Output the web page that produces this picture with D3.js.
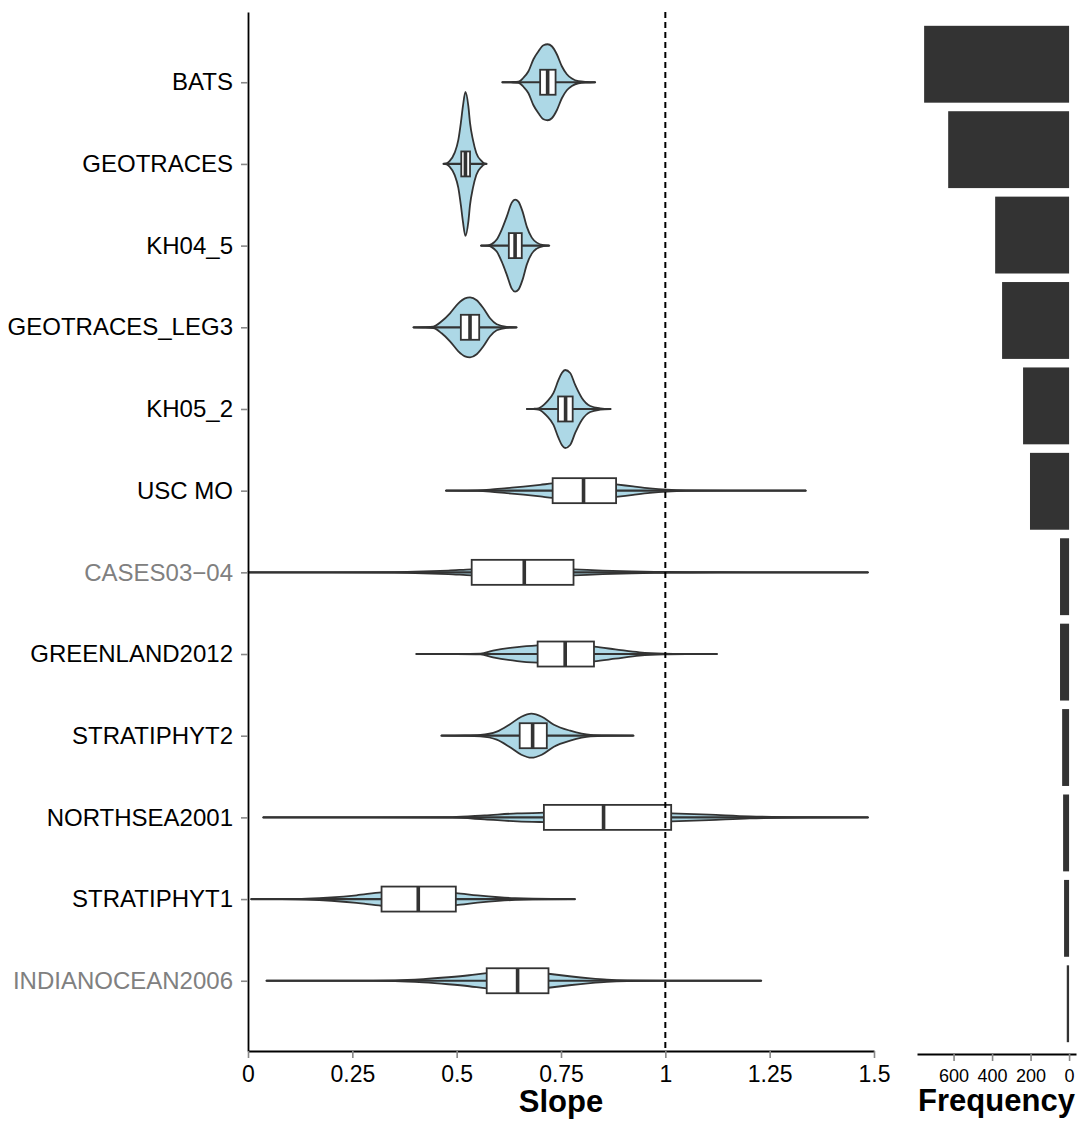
<!DOCTYPE html>
<html><head><meta charset="utf-8">
<script src="https://cdn.jsdelivr.net/npm/d3@7"></script>
<style>body{margin:0;background:#fff}</style>
</head><body><svg id="chart" width="1081" height="1122"></svg>
<script>
// ---------- DATA ----------
const categories = ["BATS","GEOTRACES","KH04_5","GEOTRACES_LEG3","KH05_2","USC MO","CASES03−04","GREENLAND2012","STRATIPHYT2","NORTHSEA2001","STRATIPHYT1","INDIANOCEAN2006"];
const greyLabels = ["CASES03−04","INDIANOCEAN2006"];
const frequency = [753, 628, 384, 348, 239, 203, 47, 47, 36, 31, 26, 12];

const slopeMin = [0.609, 0.468, 0.558, 0.396, 0.668, 0.474, 0.000, 0.403, 0.463, 0.036, 0.007, 0.044];
const slopeQ1  = [0.700, 0.511, 0.625, 0.510, 0.743, 0.730, 0.536, 0.694, 0.651, 0.709, 0.320, 0.572];
const slopeMed = [0.718, 0.521, 0.640, 0.532, 0.761, 0.804, 0.662, 0.760, 0.682, 0.852, 0.408, 0.646];
const slopeQ3  = [0.737, 0.532, 0.656, 0.554, 0.778, 0.882, 0.780, 0.829, 0.716, 1.014, 0.498, 0.720];
const slopeMax = [0.832, 0.572, 0.722, 0.644, 0.869, 1.337, 1.486, 1.124, 0.924, 1.486, 0.784, 1.230];

// violin density profiles: [slope, density (arbitrary units)]
const densBATS = [[0.609,0],[0.630,0.2],[0.648,0.5],[0.660,4.5],[0.672,11],[0.684,23],[0.696,31],[0.708,37],[0.718,38],[0.728,36],[0.740,28],[0.752,16],[0.764,8],[0.776,3.7],[0.792,1],[0.812,0.3],[0.832,0]];
const densGEOTRACES = [[0.468,0],[0.476,0.5],[0.483,2.7],[0.495,11],[0.504,24],[0.510,41],[0.515,57.7],[0.521,72],[0.528,57.7],[0.532,41],[0.539,24],[0.547,11],[0.560,2.7],[0.566,0.5],[0.572,0]];
const densKH04 = [[0.558,0],[0.575,0.3],[0.584,1.5],[0.596,6],[0.608,16],[0.620,29],[0.632,43],[0.640,46],[0.648,44],[0.658,34],[0.668,19],[0.680,8],[0.692,3],[0.708,0.5],[0.722,0]];
const densLEG3 = [[0.396,0],[0.425,0.2],[0.444,0.7],[0.464,6],[0.484,14],[0.504,24],[0.520,29],[0.532,30],[0.548,27],[0.564,19],[0.580,9],[0.596,3],[0.620,0.5],[0.644,0]];
const densKH05 = [[0.668,0],[0.685,0.2],[0.696,0.7],[0.716,7],[0.732,16],[0.744,29],[0.752,36],[0.760,39],[0.772,36],[0.784,24],[0.800,11],[0.820,3],[0.844,0.7],[0.869,0]];
const densUSCMO = [[0.474,0],[0.52,0.1],[0.55,0.3],[0.58,1],[0.62,2.5],[0.66,4],[0.70,5.8],[0.73,7.3],[0.77,8.5],[0.80,8.8],[0.84,8.2],[0.882,6.3],[0.923,4.2],[0.963,2.3],[1.003,1],[1.05,0.3],[1.15,0.05],[1.337,0]];
const densCASES = [[0.0,0],[0.2,0.05],[0.35,0.3],[0.42,0.9],[0.48,1.8],[0.536,3.0],[0.60,3.8],[0.66,4.0],[0.72,3.8],[0.78,3.0],[0.85,1.8],[0.92,0.9],[1.0,0.4],[1.06,0.15],[1.2,0.05],[1.486,0]];
const densGREENLAND = [[0.403,0],[0.50,0.1],[0.557,0.4],[0.587,3.3],[0.645,7],[0.694,8.7],[0.74,9.5],[0.78,9.3],[0.829,7.3],[0.880,4.7],[0.938,1.7],[0.997,0.4],[1.05,0.1],[1.124,0]];
const densSTRATI2 = [[0.463,0],[0.52,0.2],[0.557,0.7],[0.596,4],[0.626,11],[0.655,19],[0.679,22],[0.704,19],[0.733,11],[0.772,5],[0.821,0.7],[0.86,0.2],[0.924,0]];
const densNORTHSEA = [[0.036,0],[0.3,0.05],[0.489,0.3],[0.567,2],[0.645,4],[0.709,4.7],[0.80,5.2],[0.90,5.2],[1.014,4],[1.105,2.7],[1.202,1],[1.349,0.2],[1.486,0]];
const densSTRATI1 = [[0.007,0],[0.08,0.1],[0.141,0.5],[0.20,1.7],[0.26,3.8],[0.320,6.7],[0.37,7.6],[0.41,7.8],[0.45,7.4],[0.498,6],[0.55,3.6],[0.60,1.8],[0.64,0.8],[0.683,0.3],[0.784,0]];
const densINDIAN = [[0.044,0],[0.25,0.1],[0.352,0.4],[0.42,1.6],[0.48,3.5],[0.53,5.5],[0.572,7.7],[0.62,8.6],[0.66,8.7],[0.70,8.1],[0.720,7.0],[0.77,4.5],[0.82,2.4],[0.86,1.1],[0.909,0.4],[1.0,0.1],[1.230,0]];
const densities = [densBATS, densGEOTRACES, densKH04, densLEG3, densKH05, densUSCMO, densCASES, densGREENLAND, densSTRATI2, densNORTHSEA, densSTRATI1, densINDIAN];

const slopeTicks = [0, 0.25, 0.5, 0.75, 1, 1.25, 1.5];
const freqTicks = [600, 400, 200, 0];
const referenceSlope = 1;

// ---------- LAYOUT ----------
const svg = d3.select("#chart");
const font = "'Liberation Sans', Arial, sans-serif";
const ink = "#333333";

const x = d3.scaleLinear().domain([0, 1.5]).range([248, 874]);
const y = d3.scalePoint().domain(categories).range([12, 1051]).padding(0.86);
const w = d3.scaleLinear().domain([0, 80]).range([0, 80]);
const boxH = 25;

const xf = d3.scaleLinear().domain([790, -36]).range([917, 1076]);
const yb = d3.scaleBand().domain(categories).range([13, 1055]).paddingInner(0.1).paddingOuter(0.15);

const main = svg.append("g");

// violins
const area = d3.area().curve(d3.curveMonotoneX);
categories.forEach((c, i) => {
  const cy = y(c);
  area.x(d => x(d[0])).y0(d => cy - w(d[1])).y1(d => cy + w(d[1]));
  main.append("path").attr("d", area(densities[i]))
    .attr("fill", "#ADD8E6").attr("stroke", ink).attr("stroke-width", 1.8).attr("stroke-linejoin", "round");
});

// boxplots
categories.forEach((c, i) => {
  const cy = y(c);
  main.append("line").attr("x1", x(slopeMin[i])).attr("x2", x(slopeMax[i]))
    .attr("y1", cy).attr("y2", cy).attr("stroke", ink).attr("stroke-width", 2.2);
  main.append("rect").attr("x", x(slopeQ1[i])).attr("y", cy - boxH / 2)
    .attr("width", x(slopeQ3[i]) - x(slopeQ1[i])).attr("height", boxH)
    .attr("fill", "#fff").attr("stroke", ink).attr("stroke-width", 1.8);
  main.append("line").attr("x1", x(slopeMed[i])).attr("x2", x(slopeMed[i]))
    .attr("y1", cy - boxH / 2).attr("y2", cy + boxH / 2).attr("stroke", ink).attr("stroke-width", 3.6);
});

// dashed reference line
main.append("line").attr("x1", x(referenceSlope)).attr("x2", x(referenceSlope))
  .attr("y1", 12).attr("y2", 1051).attr("stroke", "#000").attr("stroke-width", 2).attr("stroke-dasharray", "6,4");

// axes
const yAxis = svg.append("g").attr("transform", "translate(248,0)")
  .call(d3.axisLeft(y).tickSize(7).tickSizeOuter(0).tickPadding(8));
yAxis.select(".domain").attr("stroke", "#000").attr("stroke-width", 1.8);
yAxis.selectAll(".tick line").attr("stroke", "#888").attr("stroke-width", 1.6);
yAxis.selectAll(".tick text").attr("font-family", font).attr("font-size", 24)
  .attr("fill", d => greyLabels.includes(d) ? "#808080" : "#000");

const xAxis = svg.append("g").attr("transform", "translate(0,1051)")
  .call(d3.axisBottom(x).tickValues(slopeTicks).tickFormat(d3.format("~g")).tickSize(7).tickSizeOuter(0).tickPadding(8));
xAxis.select(".domain").attr("stroke", "#000").attr("stroke-width", 1.8);
xAxis.selectAll(".tick line").attr("stroke", "#888").attr("stroke-width", 1.6);
xAxis.selectAll(".tick text").attr("font-family", font).attr("font-size", 23).attr("fill", "#000");

svg.append("text").attr("x", (x.range()[0] + x.range()[1]) / 2).attr("y", 1112)
  .attr("text-anchor", "middle").attr("font-family", font).attr("font-weight", "bold")
  .attr("font-size", 31).text("Slope");

// frequency bars
svg.append("g").selectAll("rect").data(categories).join("rect")
  .attr("x", (c, i) => xf(frequency[i])).attr("y", c => yb(c))
  .attr("width", (c, i) => xf(0) - xf(frequency[i])).attr("height", yb.bandwidth())
  .attr("fill", ink);

const fAxis = svg.append("g").attr("transform", "translate(0,1054)")
  .call(d3.axisBottom(xf).tickValues(freqTicks).tickSize(7).tickSizeOuter(0).tickPadding(8));
fAxis.select(".domain").attr("stroke", "#000").attr("stroke-width", 1.8);
fAxis.selectAll(".tick line").attr("stroke", "#888").attr("stroke-width", 1.6);
fAxis.selectAll(".tick text").attr("font-family", font).attr("font-size", 18).attr("fill", "#000");

svg.append("text").attr("x", (xf.range()[0] + xf.range()[1]) / 2).attr("y", 1111)
  .attr("text-anchor", "middle").attr("font-family", font).attr("font-weight", "bold")
  .attr("font-size", 31).text("Frequency");
</script></body></html>
